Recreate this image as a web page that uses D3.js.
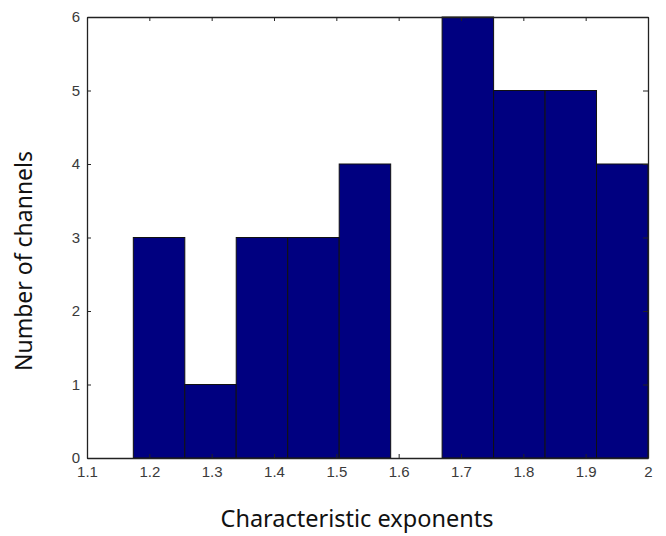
<!DOCTYPE html>
<html>
<head>
<meta charset="utf-8">
<script src="https://cdn.jsdelivr.net/npm/d3@7"></script>
<style>
  body { margin: 0; background: #fff; }
  svg { display: block; }
  .tick text { font-family: "Liberation Sans", Arial, sans-serif; font-size: 15px; fill: #3a3a3a; }
  .lbl { font-family: "Noto Sans", "Open Sans", sans-serif; fill: #111; }
</style>
</head>
<body>
<svg id="chart" width="666" height="536"></svg>
<script>
// histogram bin edges (characteristic exponent) and counts per bin
const binEdges = [1.1743, 1.2569, 1.3394, 1.4220, 1.5046, 1.5872, 1.6697, 1.7523, 1.8349, 1.9174, 2.0];
const counts = [3, 1, 3, 3, 4, 0, 6, 5, 5, 4];
const xTicks = [1.1, 1.2, 1.3, 1.4, 1.5, 1.6, 1.7, 1.8, 1.9, 2];
const yTicks = [0, 1, 2, 3, 4, 5, 6];

const svg = d3.select('#chart');
const plotL = 87, plotR = 648, plotT = 17, plotB = 458;

const x = d3.scaleLinear().domain([1.1, 2]).range([plotL, plotR]);
const y = d3.scaleLinear().domain([0, 6]).range([plotB, plotT]);

const bins = counts.map((c, i) => ({ x0: binEdges[i], x1: binEdges[i + 1], n: c }));

// bars
svg.append('g')
  .selectAll('rect')
  .data(bins.filter(d => d.n > 0))
  .enter()
  .append('rect')
  .attr('x', d => x(d.x0))
  .attr('y', d => y(d.n))
  .attr('width', d => x(d.x1) - x(d.x0))
  .attr('height', d => y(0) - y(d.n))
  .attr('fill', '#000080')
  .attr('stroke', '#111')
  .attr('stroke-width', 1);

// axes, ticks pointing inward like matlab
const fmt = d => String(d);
svg.append('g')
  .attr('transform', `translate(0,${plotB})`)
  .call(d3.axisBottom(x).tickValues(xTicks).tickFormat(fmt).tickSizeInner(-4).tickSizeOuter(0).tickPadding(8))
  .call(g => g.selectAll('text').attr('dy', '0.71em'));
svg.append('g')
  .attr('transform', `translate(0,${plotT})`)
  .call(d3.axisTop(x).tickValues(xTicks).tickFormat('').tickSizeInner(-4).tickSizeOuter(0));
svg.append('g')
  .attr('transform', `translate(${plotL},0)`)
  .call(d3.axisLeft(y).tickValues(yTicks).tickFormat(fmt).tickSizeInner(-4).tickSizeOuter(0).tickPadding(7));
svg.append('g')
  .attr('transform', `translate(${plotR},0)`)
  .call(d3.axisRight(y).tickValues(yTicks).tickFormat('').tickSizeInner(-5).tickSizeOuter(0));

svg.selectAll('.domain').attr('stroke', '#222').attr('stroke-width', 1.3);
svg.selectAll('.tick line').attr('stroke', '#222');

// axis labels
svg.append('text')
  .attr('class', 'lbl')
  .attr('x', 357)
  .attr('y', 527)
  .attr('font-size', 23.5)
  .attr('text-anchor', 'middle')
  .text('Characteristic exponents');

svg.append('text')
  .attr('class', 'lbl')
  .attr('font-size', 23)
  .attr('transform', 'translate(32,261) rotate(-90)')
  .attr('text-anchor', 'middle')
  .text('Number of channels');
</script>
</body>
</html>
